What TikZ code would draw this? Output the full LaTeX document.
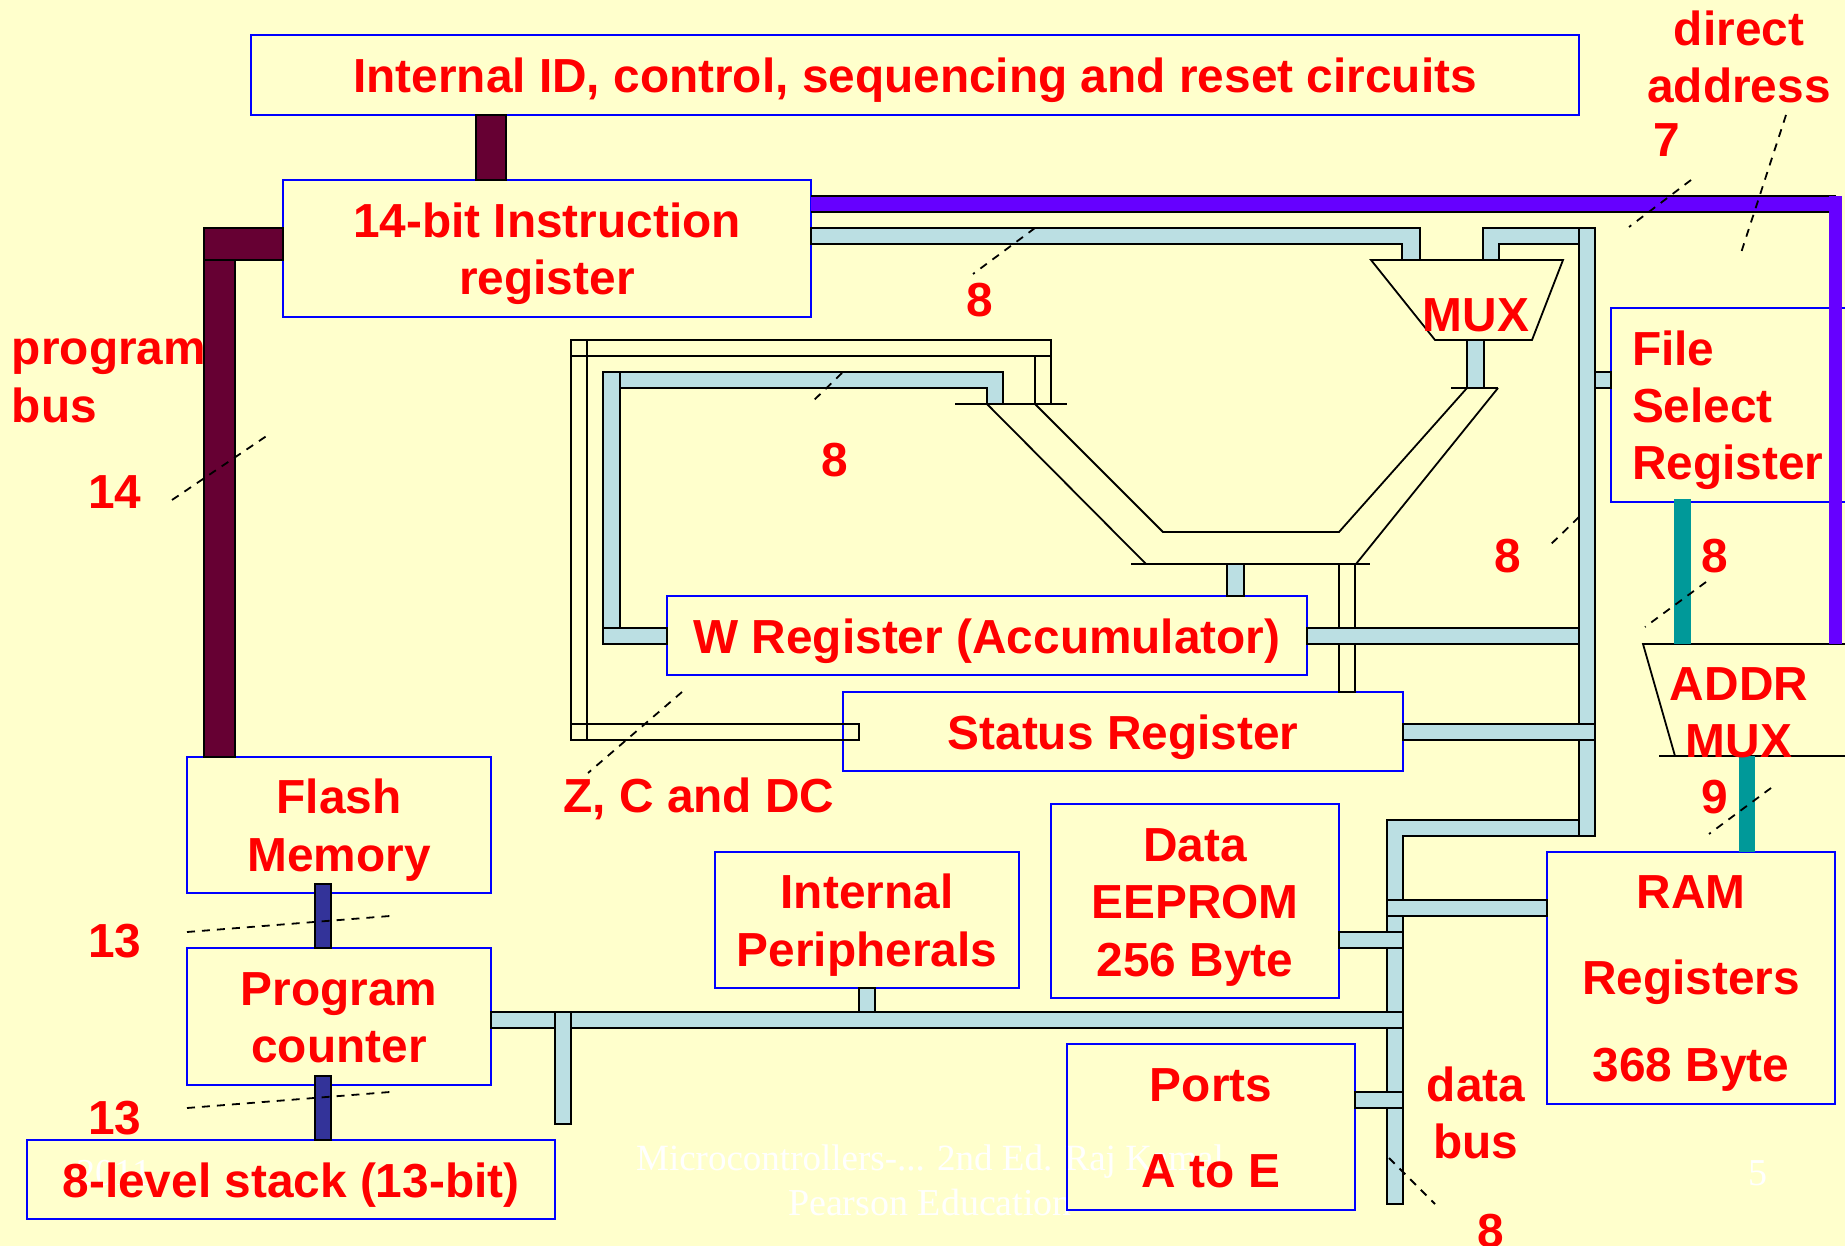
\documentclass[tikz,border=0pt]{standalone}
\usepackage{fontspec}
\setmainfont{Liberation Sans}
\newfontfamily\wmfont{Liberation Serif}
\definecolor{slidebg}{HTML}{FFFFCC}
\definecolor{lightbus}{HTML}{BBDFE3}
\definecolor{purplebus}{HTML}{6600FF}
\definecolor{maroonbus}{HTML}{660033}
\definecolor{navybus}{HTML}{333399}
\definecolor{tealbus}{HTML}{009999}
\newcommand\tl[3]{\raisebox{-#1pt}[\height][\depth]{\begin{tabular}{@{}#2@{}}#3\end{tabular}}}
\tikzset{
  boxn/.style={draw=blue,line width=2pt,text=red,font=\fontsize{47.8}{57.5}\selectfont\bfseries,inner sep=0pt,outer sep=0pt},
  lbl/.style={text=red,font=\fontsize{47.8}{57.5}\selectfont\bfseries,align=center,inner sep=0pt,outer sep=0pt},
  wm/.style={text=white,font=\fontsize{38}{44}\selectfont\wmfont,inner sep=0pt,outer sep=0pt,anchor=base},
  wire/.style={draw=black,line width=1.8pt,line join=miter},
  lbus/.style={wire,fill=lightbus},
  mbus/.style={wire,fill=maroonbus},
  nbus/.style={wire,fill=navybus},
  tbus/.style={fill=tealbus},
  pbus/.style={fill=purplebus},
  dsh/.style={draw=black,line width=1.8pt,dash pattern=on 8pt off 7pt},
}
\begin{document}
\begin{tikzpicture}[x=1pt,y=-1pt]
\useasboundingbox (0,0) rectangle (1845,1246);
\fill[slidebg] (0,0) rectangle (1845,1246);
% watermark footer
\node[wm] (wmyear) at (114,1185) {2011};
\node[wm,font=\fontsize{37}{44}\selectfont\wmfont] (wmtitle) at (930,1170) {Microcontrollers-... 2nd Ed. Raj Kamal};
\node[wm] (wmpub) at (930,1215) {Pearson Education};
\node[wm] (wmpage) at (1758,1185) {5};
% boxes
\node[boxn,minimum width=1328pt,minimum height=80pt] (top) at (915,75) {\tl{6}{c}{Internal ID, control, sequencing and reset circuits}};
\node[boxn,minimum width=528pt,minimum height=137pt] (ir) at (547,248.5) {\tl{6}{c}{14-bit Instruction\\register}};
\node[boxn,minimum width=640pt,minimum height=79pt] (wreg) at (987,635.5) {\tl{6}{c}{W Register (Accumulator)}};
\node[boxn,minimum width=560pt,minimum height=79pt] (status) at (1123,731.5) {\tl{6}{c}{Status Register}};
\node[boxn,minimum width=304pt,minimum height=136pt] (flash) at (339,825) {\tl{6}{c}{Flash\\Memory}};
\node[boxn,minimum width=304pt,minimum height=137pt] (pc) at (339,1016.5) {\tl{6}{c}{Program\\counter}};
\node[boxn,minimum width=528pt,minimum height=79pt] (stack) at (291,1179.5) {\tl{6}{c}{8-level stack (13-bit)}};
\node[boxn,minimum width=304pt,minimum height=136pt] (intp) at (867,920) {\tl{6}{c}{Internal\\Peripherals}};
\node[boxn,minimum width=288pt,minimum height=194pt] (data) at (1195,901) {\tl{6}{c}{Data\\EEPROM\\256 Byte}};
\node[boxn,minimum width=288pt,minimum height=166pt] (ports) at (1211,1127) {\tl{6}{c}{Ports\\[29pt]A to E}};
\node[boxn,minimum width=288pt,minimum height=252pt] (ram) at (1691,978) {\tl{5}{c}{RAM\\[29pt]Registers\\[29pt]368 Byte}};
\node[boxn,minimum width=235pt,minimum height=194pt,text width=193pt,inner xsep=21pt] (fsr) at (1728.5,405) {\tl{6}{l}{File\\Select\\Register}};
% unfilled control buses
\draw[wire] (571,340) rectangle (1051,356);
\draw[wire] (571,340) rectangle (587,740);
\draw[wire] (571,724) rectangle (859,740);
\draw[wire] (1035,356) rectangle (1051,404);
\draw[wire] (1339,564) rectangle (1355,692);
% ALU outline
\draw[wire] (955,404) -- (1067,404);
\draw[wire] (987,404) -- (1146,564);
\draw[wire] (1035,404) -- (1163,532) -- (1339,532) -- (1467,388);
\draw[wire] (1131,564) -- (1370,564);
\draw[wire] (1498,388) -- (1356,564);
\draw[wire] (1451,388) -- (1498,388);
% MUX trapezoid
\draw[wire] (1371,260) -- (1563,260) -- (1532,340) -- (1435,340) -- cycle;
% ADDR MUX
\draw[wire] (1845,644) -- (1643,644) -- (1675,756);
\draw[wire] (1659,756) -- (1845,756);
% purple literal bus
\fill[pbus] (ir.east |- 0,196) rectangle (1836,212);
\draw[wire] (ir.east |- 0,196) -- (1836,196);
\draw[wire] (ir.east |- 0,212) -- (1829,212);
\fill[pbus] (1829,196) rectangle (1842,644);
% program bus (maroon)
\draw[mbus] (476,0 |- top.south) rectangle (506,0 |- ir.north);
\draw[mbus] (204,260) rectangle (235,0 |- flash.north);
\draw[mbus] (204,228) rectangle (ir.west |- 0,260);
% stack and counter links
\draw[nbus] (315,884) rectangle (331,0 |- pc.north);
\draw[nbus] (315,1076) rectangle (331,0 |- stack.north);
% register file address links
\fill[tbus] (1674,499) rectangle (1691,644);
\fill[tbus] (1739,756) rectangle (1755,0 |- ram.north);
% light data buses
\draw[lbus] (ir.east |- 0,228) -- (1420,228) -- (1420,260) -- (1402,260) -- (1402,244) -- (ir.east |- 0,244) -- cycle;
\draw[lbus] (1579,228) -- (1483,228) -- (1483,260) -- (1499,260) -- (1499,244) -- (1579,244) -- cycle;
\draw[lbus] (1579,228) rectangle (1595,836);
\draw[lbus] (1467,340) rectangle (1484,388);
\draw[lbus] (1595,372) rectangle (fsr.west |- 0,388);
\draw[lbus] (603,372) rectangle (620,644);
\draw[lbus] (603,628) rectangle (wreg.west |- 0,644);
\draw[lbus] (620,372) -- (1003,372) -- (1003,404) -- (987,404) -- (987,388) -- (620,388) -- cycle;
\draw[lbus] (1227,564) rectangle (1244,0 |- wreg.north);
\draw[lbus] (wreg.east |- 0,628) rectangle (1579,644);
\draw[lbus] (status.east |- 0,724) rectangle (1595,740);
\draw[lbus] (1579,820) -- (1387,820) -- (1387,1204) -- (1403,1204) -- (1403,836) -- (1579,836) -- cycle;
\draw[lbus] (1387,900) rectangle (ram.west |- 0,916);
\draw[lbus] (data.east |- 0,932) rectangle (1403,948);
\draw[lbus] (pc.east |- 0,1012) rectangle (1403,1028);
\draw[lbus] (859,0 |- intp.south) rectangle (875,1012);
\draw[lbus] (555,1012) rectangle (571,1124);
\draw[lbus] (ports.east |- 0,1092) rectangle (1403,1108);
% free labels
\node[lbl] (mux) at (1476,315) {MUX};
\node[lbl] (addrmux) at (1739,713) {ADDR\\MUX};
\node[lbl,align=left,anchor=west] (progbus) at (12,381) {program\\bus};
\node[lbl] (direct) at (1739,57) {direct\\address};
\node[lbl] (zcdc) at (699,799) {Z, C and DC};
\node[lbl] (databus) at (1476,1113) {data\\bus};
\node[lbl] (n14) at (115,492) {14};
\node[lbl] (n13a) at (115,941) {13};
\node[lbl] (n13b) at (115,1118) {13};
\node[lbl] (n7) at (1667,140) {7};
\node[lbl] (n8a) at (980,300) {8};
\node[lbl] (n8b) at (835,460) {8};
\node[lbl] (n8c) at (1508,556) {8};
\node[lbl] (n8d) at (1715,556) {8};
\node[lbl] (n8e) at (1491,1231) {8};
\node[lbl] (n9) at (1715,797) {9};
% bus-width slashes
\draw[dsh] (172,500) -- (268,435);
\draw[dsh] (187,932) -- (390,916);
\draw[dsh] (187,1108) -- (390,1092);
\draw[dsh] (1035,228) -- (973,274);
\draw[dsh] (842,373) -- (811,403);
\draw[dsh] (1691,180) -- (1629,227);
\draw[dsh] (1786,115) -- (1740,256);
\draw[dsh] (1579,517) -- (1547,548);
\draw[dsh] (1706,582) -- (1645,627);
\draw[dsh] (1771,788) -- (1709,834);
\draw[dsh] (682,692) -- (588,773);
\draw[dsh] (1389,1158) -- (1435,1204);
\end{tikzpicture}
\end{document}
